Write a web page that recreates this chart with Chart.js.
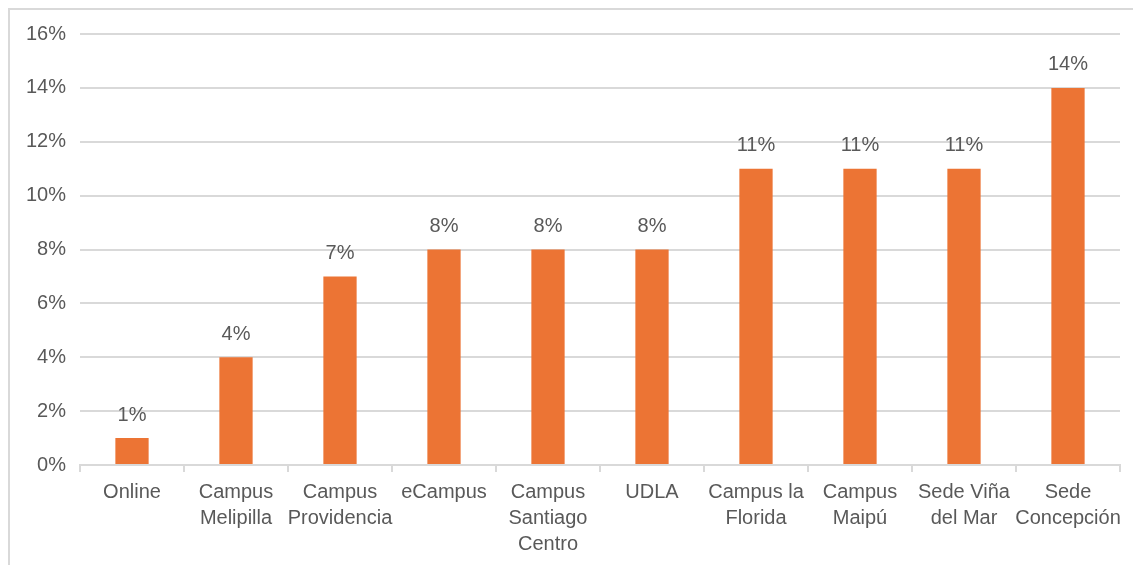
<!DOCTYPE html>
<html>
<head>
<meta charset="utf-8">
<script src="https://cdn.jsdelivr.net/npm/chart.js@4/dist/chart.umd.min.js"></script>
<style>
  html, body { margin: 0; padding: 0; background: #fff; }
  #wrap { position: relative; width: 1133px; height: 565px; }
</style>
</head>
<body>
<div id="wrap"><canvas id="barChart" width="1133" height="565"></canvas></div>
<script>
const categories = [
    'Online',
    ['Campus', 'Melipilla'],
    ['Campus', 'Providencia'],
    'eCampus',
    ['Campus', 'Santiago', 'Centro'],
    'UDLA',
    ['Campus la', 'Florida'],
    ['Campus', 'Maipú'],
    ['Sede Viña', 'del Mar'],
    ['Sede', 'Concepción']
];
const values = [1, 4, 7, 8, 8, 8, 11, 11, 11, 14];
const yTicks = [0, 2, 4, 6, 8, 10, 12, 14, 16];

const textColor = '#595959';
const gridColor = '#d9d9d9';
const barColor = '#EC7434';
const fontFamily = "'Liberation Sans', Arial, sans-serif";

const frame = {
    id: 'frame',
    beforeDraw(chart) {
        const ctx = chart.ctx;
        ctx.save();
        ctx.strokeStyle = gridColor;
        ctx.lineWidth = 2;
        ctx.strokeRect(9, 9, 1140, 580);
        ctx.restore();
    }
};

const barLabels = {
    id: 'barLabels',
    afterDatasetsDraw(chart) {
        const ctx = chart.ctx;
        const meta = chart.getDatasetMeta(0);
        ctx.save();
        ctx.fillStyle = textColor;
        ctx.font = '20px ' + fontFamily;
        ctx.textAlign = 'center';
        ctx.textBaseline = 'middle';
        meta.data.forEach((bar, i) => {
            ctx.fillText(values[i] + '%', bar.x, bar.y - 23);
        });
        ctx.restore();
    }
};

new Chart(document.getElementById('barChart'), {
    type: 'bar',
    data: {
        labels: categories,
        datasets: [{
            data: values,
            backgroundColor: barColor,
            borderWidth: 0,
            categoryPercentage: 1,
            barPercentage: 0.32
        }]
    },
    options: {
        responsive: false,
        animation: false,
        layout: { padding: { left: 0, right: 13, top: 34, bottom: 0 } },
        plugins: {
            legend: { display: false },
            tooltip: { enabled: false }
        },
        scales: {
            x: {
                offset: true,
                grid: {
                    offset: true,
                    drawOnChartArea: false,
                    drawTicks: true,
                    tickLength: 7,
                    color: gridColor,
                    lineWidth: 2
                },
                border: { color: gridColor, width: 2 },
                ticks: {
                    color: textColor,
                    font: { family: fontFamily, size: 20, lineHeight: 1.3 },
                    maxRotation: 0,
                    autoSkip: false,
                    padding: 7
                },
                afterFit(axis) { axis.height = 100; }
            },
            y: {
                min: 0,
                max: 16,
                afterBuildTicks(axis) { axis.ticks = yTicks.map(v => ({ value: v })); },
                grid: { color: gridColor, lineWidth: 2, drawTicks: false },
                border: { display: false },
                ticks: {
                    color: textColor,
                    font: { family: fontFamily, size: 20 },
                    padding: 14,
                    callback: v => v + '%'
                },
                afterFit(axis) { axis.width = 80; }
            }
        }
    },
    plugins: [frame, barLabels]
});
</script>
</body>
</html>
